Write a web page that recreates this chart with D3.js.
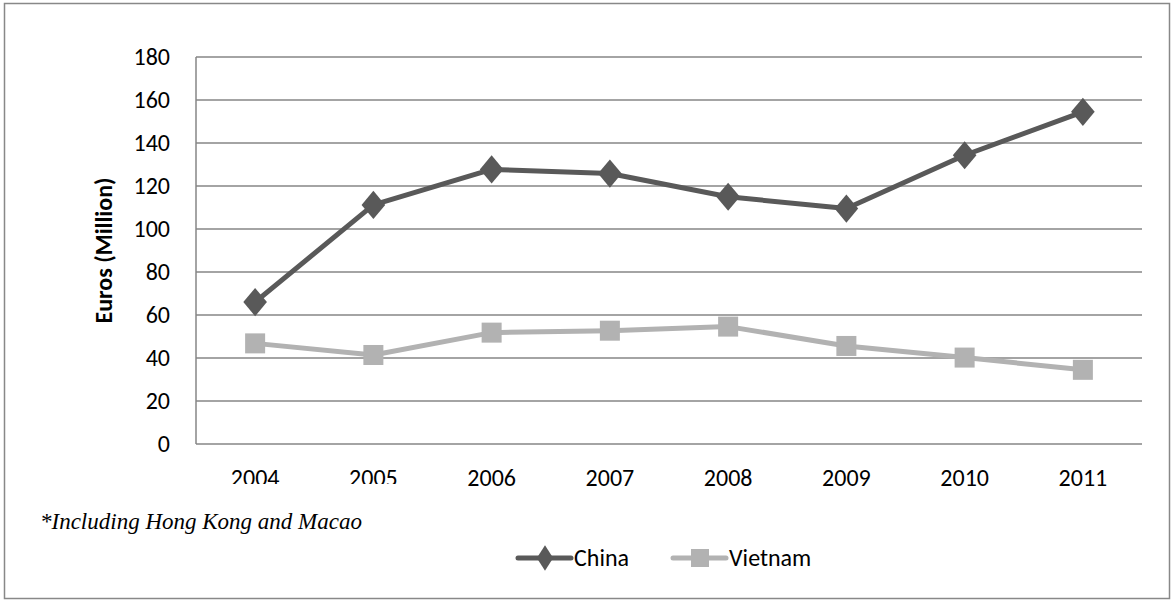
<!DOCTYPE html>
<html><head><meta charset="utf-8">
<script src="https://cdn.jsdelivr.net/npm/d3@7"></script>
<style>body{margin:0;background:#fff}svg{display:block}</style>
</head><body>
<svg id="c" width="1176" height="601"></svg>
<script>
const years = ["2004","2005","2006","2007","2008","2009","2010","2011"];
const china = [66, 111.2, 127.7, 125.8, 115, 109.5, 134.3, 154.5];
const vietnam = [46.8, 41.4, 51.8, 52.7, 54.6, 45.6, 40.2, 34.5];
const yTicks = [0, 20, 40, 60, 80, 100, 120, 140, 160, 180];
const seriesNames = ["China", "Vietnam"];
const footnote = "*Including Hong Kong and Macao";
const yTitle = "Euros (Million)";

const svg = d3.select("#c");
const font = "Carlito, Calibri, Lato, 'Open Sans', sans-serif";
const fs = 24;
const L = 196, R = 1142, T = 57, B = 444;

svg.append("rect").attr("x", 4.5).attr("y", 3.5).attr("width", 1165).attr("height", 595)
  .attr("fill", "#fff").attr("stroke", "#888").attr("stroke-width", 1.5);

const x = d3.scaleBand().domain(years).range([L, R]);
const y = d3.scaleLinear().domain([0, 180]).range([B, T]);

svg.append("g").selectAll("line").data(yTicks).join("line")
  .attr("x1", L).attr("x2", R).attr("y1", d => y(d)).attr("y2", d => y(d))
  .attr("stroke", "#868686").attr("stroke-width", 1.5);
svg.append("line").attr("x1", L).attr("x2", L).attr("y1", T).attr("y2", B)
  .attr("stroke", "#868686").attr("stroke-width", 1.5);

svg.append("g").selectAll("text").data(yTicks).join("text")
  .attr("x", 170).attr("y", d => y(d)).attr("dy", "0.35em")
  .attr("text-anchor", "end").attr("font-family", font).attr("font-size", fs)
  .attr("fill", "#000").text(d => d);

const defs = svg.append("defs");
defs.append("clipPath").attr("id", "clipx").append("rect")
  .attr("x", 0).attr("y", 440).attr("width", 1176).attr("height", 44);
svg.append("g").selectAll("text").data(years).join("text")
  .attr("x", d => x(d) + x.bandwidth() / 2).attr("y", 486)
  .attr("text-anchor", "middle").attr("font-family", font).attr("font-size", fs)
  .attr("fill", "#000")
  .attr("clip-path", (d, i) => i < 2 ? "url(#clipx)" : null)
  .text(d => d);

svg.append("text").attr("transform", "translate(112," + ((T + B) / 2) + ") rotate(-90)")
  .attr("text-anchor", "middle").attr("font-family", font).attr("font-size", fs)
  .attr("font-weight", "bold").attr("fill", "#000").text(yTitle);

const cx = d => x(d) + x.bandwidth() / 2;
const line = d3.line().x((d, i) => cx(years[i])).y(d => y(d));
const cols = ["#595959", "#b2b2b2"];

svg.append("path").datum(vietnam).attr("d", line).attr("fill", "none")
  .attr("stroke", cols[1]).attr("stroke-width", 5).attr("stroke-linejoin", "round");
svg.append("g").selectAll("rect").data(vietnam).join("rect")
  .attr("x", (d, i) => cx(years[i]) - 10).attr("y", d => y(d) - 10)
  .attr("width", 20).attr("height", 20).attr("fill", cols[1]);

svg.append("path").datum(china).attr("d", line).attr("fill", "none")
  .attr("stroke", cols[0]).attr("stroke-width", 5).attr("stroke-linejoin", "round");
const diamond = d3.symbol().type(d3.symbolDiamond).size(230);
svg.append("g").selectAll("path").data(china).join("path")
  .attr("d", diamond)
  .attr("transform", (d, i) => "translate(" + cx(years[i]) + "," + y(d) + ") scale(1.45,1)")
  .attr("fill", cols[0]);

svg.append("text").attr("x", 40).attr("y", 529)
  .attr("font-family", "'Liberation Serif', 'Times New Roman', serif")
  .attr("font-style", "italic").attr("font-size", 23).attr("fill", "#000").text(footnote);

const leg = [{n: seriesNames[0], x0: 518, c: cols[0], t: "d"}, {n: seriesNames[1], x0: 673, c: cols[1], t: "s"}];
const ly = 558;
leg.forEach(l => {
  svg.append("line").attr("x1", l.x0).attr("x2", l.x0 + 53).attr("y1", ly).attr("y2", ly)
    .attr("stroke", l.c).attr("stroke-width", 5).attr("stroke-linecap", "round");
  if (l.t === "d") {
    svg.append("path").attr("d", diamond).attr("transform", "translate(" + (l.x0 + 27) + "," + ly + ") scale(1.0,0.9)").attr("fill", l.c);
  } else {
    svg.append("rect").attr("x", l.x0 + 18).attr("y", ly - 9).attr("width", 18).attr("height", 18).attr("fill", l.c);
  }
  svg.append("text").attr("x", l.x0 + 56).attr("y", ly).attr("dy", "0.35em")
    .attr("font-family", font).attr("font-size", fs).attr("fill", "#000").text(l.n);
});
</script>
</body></html>
